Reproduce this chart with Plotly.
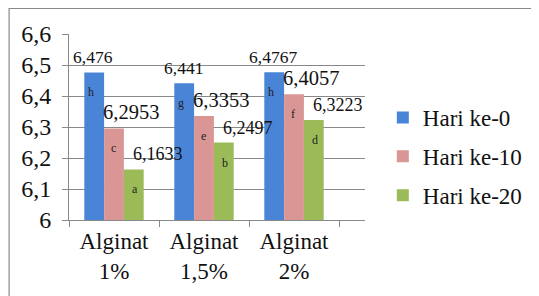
import plotly.graph_objects as go

categories = ["Alginat<br>1%", "Alginat<br>1,5%", "Alginat<br>2%"]
series_names = ["Hari ke-0", "Hari ke-10", "Hari ke-20"]
hari0 = [6.476, 6.441, 6.4767]
hari10 = [6.2953, 6.3353, 6.4057]
hari20 = [6.1633, 6.2497, 6.3223]
letters0 = ["h", "g", "h"]
letters10 = ["c", "e", "f"]
letters20 = ["a", "b", "d"]
value_labels0 = ["6,476", "6,441", "6,4767"]
value_labels10 = ["6,2953", "6,3353", "6,4057"]
value_labels20 = ["6,1633", "6,2497", "6,3223"]
y_ticks = [6, 6.1, 6.2, 6.3, 6.4, 6.5, 6.6]
y_tick_text = ["6", "6,1", "6,2", "6,3", "6,4", "6,5", "6,6"]

colors = ["#4A84D6", "#DA9694", "#9BBB59"]
serif = "Liberation Serif"

# page body has an 8px margin: work in reference pixel coords, shifted by OFF
OFF = 8
W, H = 539 - OFF, 296 - OFF
L, R, T, B = 69 - OFF, 368 - OFF, 34 - OFF, 220 - OFF

fig = go.Figure()
all_vals = [hari0, hari10, hari20]
all_letters = [letters0, letters10, letters20]
all_labels = [value_labels0, value_labels10, value_labels20]
for name, vals, col in zip(series_names, all_vals, colors):
    fig.add_trace(go.Bar(
        name=name, x=categories, y=vals, marker_color=col,
        marker_line_width=0, legendgroup=name,
    ))

# value labels above bars, significance letters inside bars
bar_w = 22
offsets = [-bar_w, 0, bar_w]
label_shift = [1, 17, 22]
label_size = [17.5, 20.5, 18]
for si in range(3):
    for ci in range(3):
        fig.add_annotation(
            x=categories[ci], y=all_vals[si][ci], text=all_labels[si][ci],
            showarrow=False, yanchor="bottom", xanchor="center",
            xshift=offsets[si] + label_shift[si], yshift=3,
            font=dict(family=serif, size=label_size[si], color="#111"),
        )
        fig.add_annotation(
            x=categories[ci], y=all_vals[si][ci], text=all_letters[si][ci],
            showarrow=False, yanchor="top", xanchor="center",
            xshift=offsets[si] - 1, yshift=-11,
            font=dict(family=serif, size=12, color="#222"),
        )

pw = R - L
ph = B - T
def px_x(x):
    return (x - OFF - L) / pw
def px_y(y):
    return (B - (y - OFF)) / ph

fig.add_shape(type="rect", xref="paper", yref="paper",
              x0=px_x(8.5), x1=px_x(538), y0=px_y(310), y1=px_y(8.5),
              line=dict(color="#888", width=1.2), fillcolor="rgba(0,0,0,0)",
              layer="below")

fig.update_layout(
    width=W, height=H,
    margin=dict(l=L, r=W - R, t=T, b=H - B),
    paper_bgcolor="white", plot_bgcolor="white",
    barmode="group", bargap=0.34, bargroupgap=0,
    showlegend=True,
    legend=dict(x=px_x(386), y=px_y(96), xanchor="left", yanchor="top",
                font=dict(family=serif, size=23, color="#111"),
                itemsizing="constant", itemwidth=30, tracegroupgap=6,
                bgcolor="rgba(0,0,0,0)"),
    font=dict(family=serif, color="#111"),
)
fig.update_xaxes(
    showline=True, linecolor="#888", linewidth=1,
    ticks="outside", tickson="boundaries", ticklen=6, tickcolor="#888",
    tickfont=dict(family=serif, size=23, color="#111"),
    showgrid=False, automargin=False,
)
fig.update_yaxes(
    range=[6, 6.6], tickvals=y_ticks, ticktext=y_tick_text,
    showline=True, linecolor="#888", linewidth=1,
    ticks="outside", ticklen=6, tickcolor="#888",
    ticklabelstandoff=6,
    showgrid=True, gridcolor="#888", gridwidth=1,
    tickfont=dict(family=serif, size=24, color="#111"),
    zeroline=False, automargin=False,
)
fig.write_html("out.html")
